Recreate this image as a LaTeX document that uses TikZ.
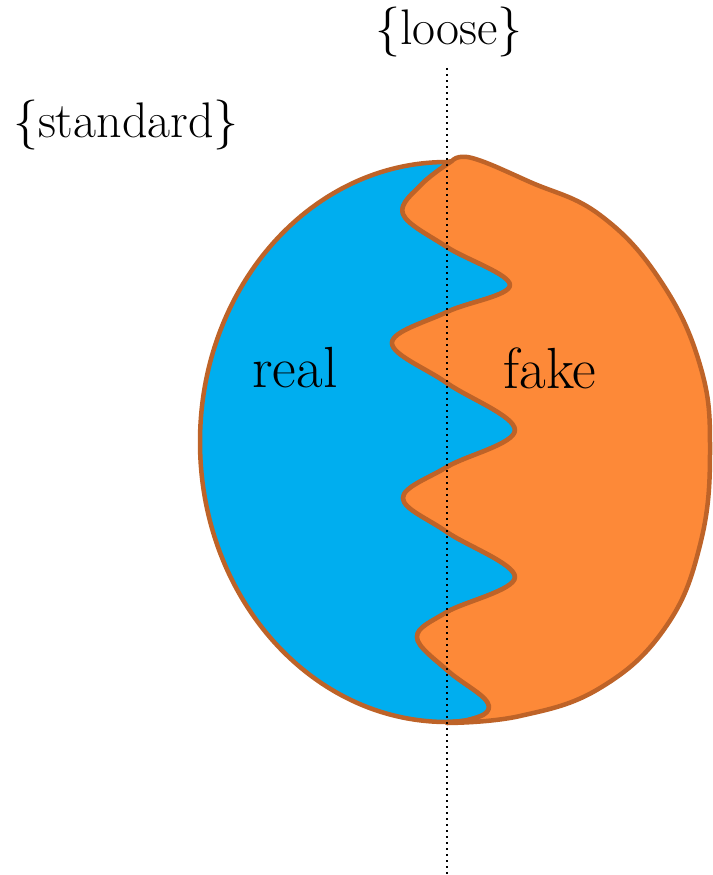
\documentclass[tikz,border=0pt]{standalone}
\usepackage{tikz}
\usetikzlibrary{positioning}
\definecolor{realblue}{RGB}{0, 174, 239}
\definecolor{fakeorange}{RGB}{253, 137, 56}
\definecolor{rim}{RGB}{190, 99, 40}

\begin{document}
\begin{tikzpicture}[x=1pt, y=-1pt,
      region/.style={draw=rim, line width=4.5pt, line join=round},
      tag/.style={font=\fontsize{50}{54}\selectfont, inner sep=0pt},
      side/.style={font=\fontsize{58}{62}\selectfont, inner sep=0pt},
      cut/.style={line width=2.4pt, dash pattern=on 2.4pt off 3.6pt}]
    \useasboundingbox (0,0) rectangle (712,875);
    \filldraw[region, fill=realblue] (447,722) arc[start angle=90, end angle=270, x radius=247, y radius=280]
      -- plot[smooth, tension=0.6] coordinates {(452,161) (422,184) (403,214) (447,247) (510,285) (447,312)
        (392,343) (447,383) (515,430) (447,467) (403,498) (447,532) (515,577) (447,612) (417,637)
        (447,670) (484,698) (487,712) (468,720) (447,722)} -- cycle;
    \filldraw[region, fill=fakeorange] plot[smooth, tension=0.6] coordinates {(452,161) (422,184) (403,214)
        (447,247) (510,285) (447,312) (392,343) (447,383) (515,430) (447,467) (403,498) (447,532)
        (515,577) (447,612) (417,637) (447,670) (484,698) (487,712) (468,720) (447,722)}
      -- plot[smooth, tension=0.7] coordinates {(447,723) (520,716) (600,688) (665,628) (700,545)
        (710,450) (700,365) (660,280) (600,215) (530,182) (472,158) (452,161)} -- cycle;
    \node[side] (real) at (295,368) {real};
    \node[side] (fake) at (550,368) {fake};
    \node[tag] (loose) at (449,32) {\{loose\}};
    \node[tag] (standard) at (126,125) {\{standard\}};
    \coordinate (cuttop) at (447,68);
    \coordinate (cutbot) at (447,875);
    \draw[cut] (cuttop) -- (cutbot);
  \end{tikzpicture}
\end{document}
